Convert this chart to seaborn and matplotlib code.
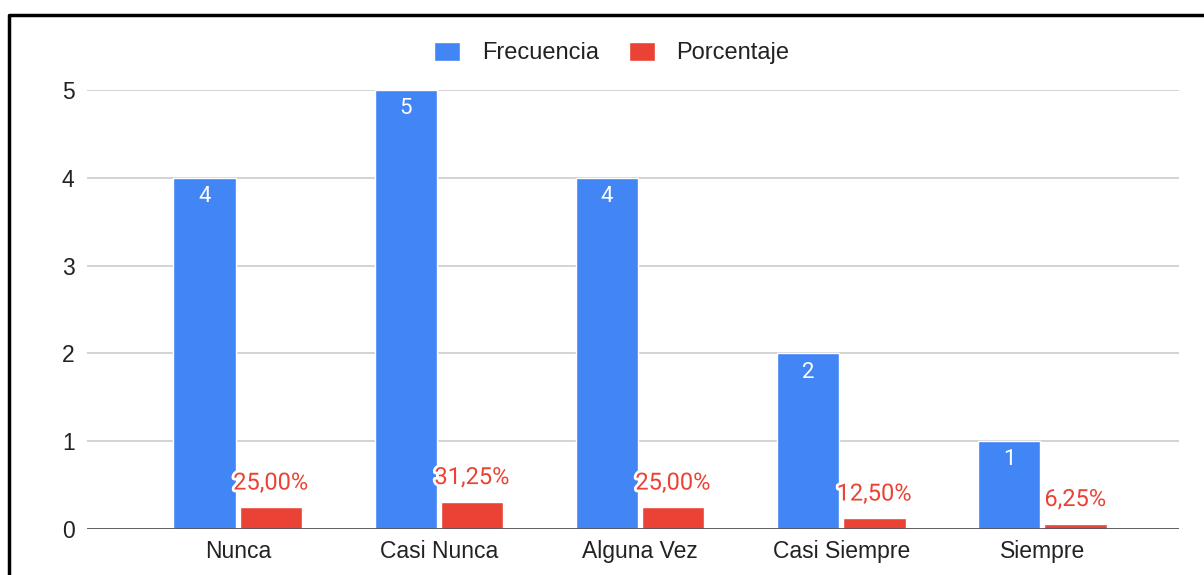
import pandas as pd
import seaborn as sns
import matplotlib.pyplot as plt
import matplotlib.patheffects as pe
from matplotlib.lines import Line2D
from matplotlib.patches import Patch

categorias = ['Nunca', 'Casi Nunca', 'Alguna Vez', 'Casi Siempre', 'Siempre']
frecuencia = [4, 5, 4, 2, 1]
porcentaje = [0.25, 0.3125, 0.25, 0.125, 0.0625]
etiquetas_pct = ['25,00%', '31,25%', '25,00%', '12,50%', '6,25%']

azul = '#4285F4'
rojo = '#EA4335'

df = pd.DataFrame({
    'categoria': categorias * 2,
    'serie': ['Frecuencia'] * 5 + ['Porcentaje'] * 5,
    'valor': frecuencia + porcentaje,
})

sns.set_style('white')
plt.rcParams['font.family'] = ['Liberation Sans', 'DejaVu Sans']

fig = plt.figure(figsize=(12.04, 5.75), dpi=100)
ax = fig.add_axes([87 / 1204, 1 - 529 / 575, (1179 - 87) / 1204, (529 - 90) / 575])

sns.barplot(data=df, x='categoria', y='valor', hue='serie',
            palette=[azul, rojo], width=0.66, gap=0.06,
            saturation=1, legend=False, ax=ax)

ax.set_xlim(-0.75, 4.68)
ax.set_ylim(0, 5)
ax.set_yticks(range(6))
ax.grid(axis='y', color='#cccccc', linewidth=1.2)
ax.set_axisbelow(True)
ax.axhline(0, color='#555555', linewidth=2, zorder=5)
for s in ax.spines.values():
    s.set_visible(False)
ax.set_xlabel('')
ax.set_ylabel('')
ax.tick_params(axis='both', length=0, labelsize=16.5, colors='#222222')
ax.tick_params(axis='y', pad=9)
ax.tick_params(axis='x', pad=8)

# etiquetas
barras_azul = ax.containers[0]
barras_rojo = ax.containers[1]
ax.bar_label(barras_azul, labels=[str(v) for v in frecuencia], label_type='edge',
             padding=-21, color='white', fontsize=16, family=['Roboto', 'DejaVu Sans'])
txts = ax.bar_label(barras_rojo, labels=etiquetas_pct, label_type='edge',
                    padding=9, color=rojo, fontsize=17, family=['Roboto', 'DejaVu Sans'])
for t in txts:
    t.set_path_effects([pe.withStroke(linewidth=4, foreground='white')])

handles = [Patch(facecolor=azul, label='Frecuencia'), Patch(facecolor=rojo, label='Porcentaje')]
fig.legend(handles=handles, loc='center', bbox_to_anchor=(612 / 1204, 1 - 53 / 575),
           ncol=2, frameon=False, fontsize=17, handlelength=1.1, handleheight=0.9,
           handletextpad=0.9, columnspacing=1.3, labelcolor='#222222')

# marco
fig.add_artist(Line2D([9 / 1204, 9 / 1204, 1.0], [0.0, 1 - 15 / 575, 1 - 15 / 575],
                      color='black', linewidth=2.5, transform=fig.transFigure))

fig.savefig('out.png', dpi=100)
